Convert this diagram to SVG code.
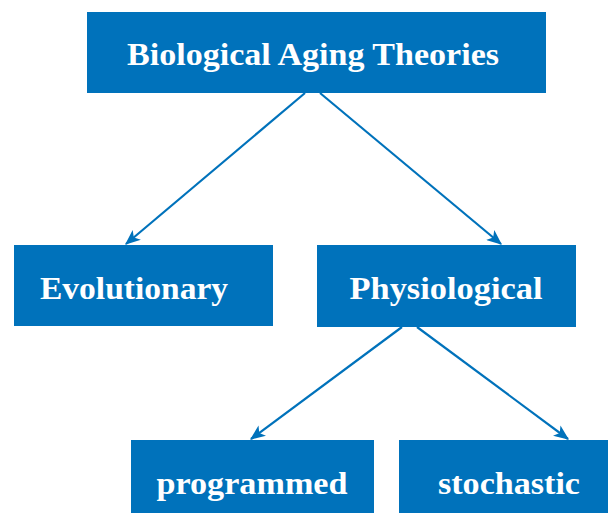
<svg xmlns="http://www.w3.org/2000/svg" width="608" height="513" viewBox="0 0 608 513">
<style>
.box{fill:#0072BB}
.lbl{fill:#fff;font-family:"Liberation Serif","DejaVu Serif",serif;font-weight:bold;font-size:32px;text-anchor:middle}
.edge{stroke:#0072BB;stroke-width:2.2;fill:none;marker-end:url(#arr)}
</style>
<defs>
<marker id="arr" viewBox="0 0 12 10" refX="11" refY="5" markerWidth="7" markerHeight="6" markerUnits="strokeWidth" orient="auto">
<path d="M0,0 L12,5 L0,10 L3,5 Z" fill="#0072BB"/>
</marker>
</defs>
<rect width="608" height="513" fill="#fff"/>
<g id="connectors">
<line class="edge" x1="305" y1="93" x2="126" y2="244"/>
<line class="edge" x1="320" y1="93" x2="501" y2="244"/>
<line class="edge" x1="402" y1="327" x2="251" y2="439"/>
<line class="edge" x1="417" y1="327" x2="568" y2="439"/>
</g>
<g id="n-root">
<rect class="box" x="87" y="12" width="459" height="81"/>
<text class="lbl" x="313" y="65" textLength="372" lengthAdjust="spacingAndGlyphs">Biological Aging Theories</text>
</g>
<g id="n-evolutionary">
<rect class="box" x="14" y="245" width="259" height="81"/>
<text class="lbl" x="134" y="299" textLength="188" lengthAdjust="spacingAndGlyphs">Evolutionary</text>
</g>
<g id="n-physiological">
<rect class="box" x="317" y="245" width="259" height="82"/>
<text class="lbl" x="446" y="299" textLength="193" lengthAdjust="spacingAndGlyphs">Physiological</text>
</g>
<g id="n-programmed">
<rect class="box" x="131" y="440" width="243" height="73"/>
<text class="lbl" x="252" y="494" textLength="191" lengthAdjust="spacingAndGlyphs">programmed</text>
</g>
<g id="n-stochastic">
<rect class="box" x="399" y="440" width="209" height="73"/>
<text class="lbl" x="509" y="494" textLength="142" lengthAdjust="spacingAndGlyphs">stochastic</text>
</g>
</svg>
